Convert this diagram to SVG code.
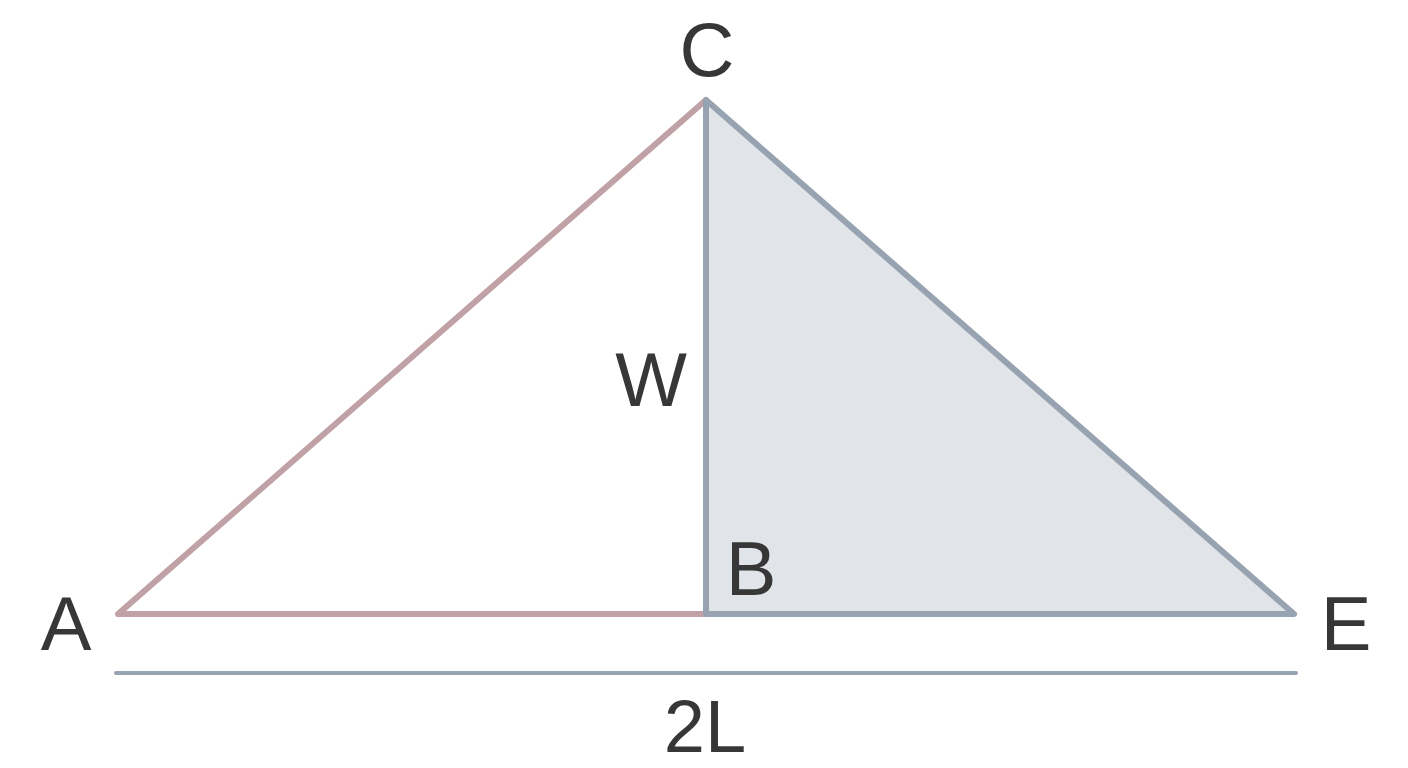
<svg xmlns="http://www.w3.org/2000/svg" width="1408" height="768" viewBox="0 0 1408 768">
<style>
.lbl{font-family:"Liberation Sans",Arial,sans-serif;font-size:76px;fill:#373737;text-anchor:middle}
.pink{stroke:#c0a1a6;stroke-width:6;fill:none;stroke-linecap:round;stroke-linejoin:round}
.gray{stroke:#97a3b1;stroke-width:6;stroke-linecap:round;stroke-linejoin:round}
</style>
<rect width="1408" height="768" fill="#ffffff"/>
<g id="connectors">
<polyline class="pink" points="706,614 118,614 706,100"/>
<polygon id="triangle-BCE" class="gray" points="706,100 1294,614 706,614" fill="#e1e4e8"/>
<line id="dimension" x1="116" y1="673" x2="1296" y2="673" stroke="#97a3b1" stroke-width="4" stroke-linecap="round"/>
</g>
<g id="node-C"><text class="lbl" x="707" y="76">C</text></g>
<g id="node-A"><text class="lbl" x="66" y="650">A</text></g>
<g id="node-B"><text class="lbl" x="751" y="595">B</text></g>
<g id="node-E"><text class="lbl" x="1346" y="650">E</text></g>
<g id="label-W"><text class="lbl" x="651" y="406">W</text></g>
<g id="label-2L"><text class="lbl" x="705" y="752" style="font-size:74px">2L</text></g>
</svg>
